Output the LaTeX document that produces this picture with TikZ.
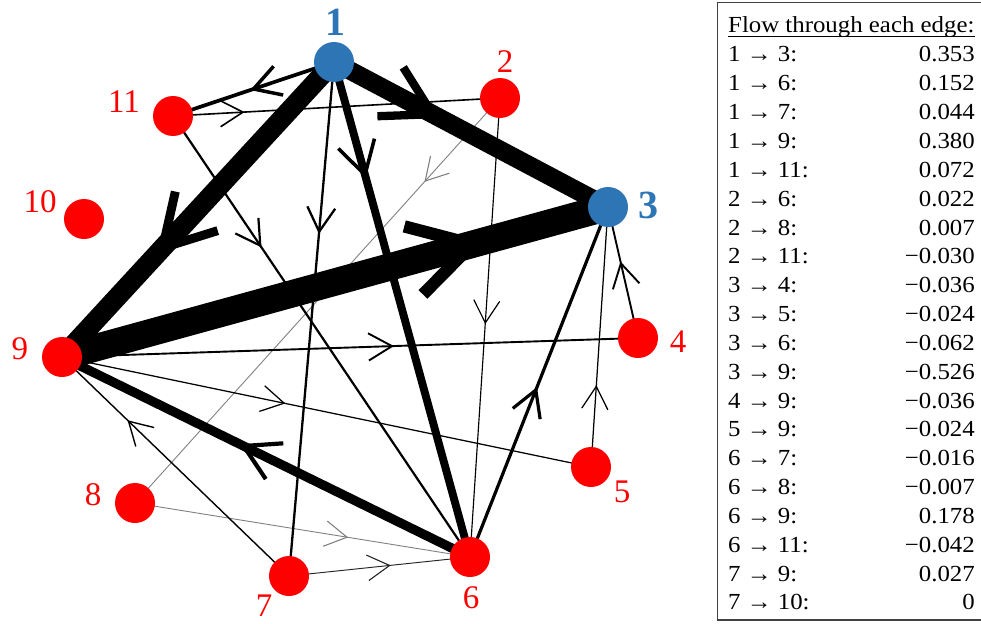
\documentclass[tikz,border=0pt]{standalone}
\usepackage{fontspec}
\setmainfont{Liberation Serif}
\newfontfamily\tablefont{Liberation Serif}[FakeStretch=1.08]
\usetikzlibrary{decorations.markings}
\definecolor{nodeblue}{HTML}{2E75B6}
\definecolor{nodered}{HTML}{FF0000}
\pgfdeclarelayer{background}
\pgfsetlayers{background,main}
\tikzset{
  vtx/.style={circle, fill=nodered, minimum size=40pt, inner sep=0pt},
  hub/.style={vtx, fill=nodeblue},
  lbl/.style={text=nodered, font=\fontsize{33}{33}\selectfont, inner sep=0pt},
  hublbl/.style={text=nodeblue, font=\fontsize{40}{40}\selectfont\bfseries, inner sep=0pt},
  rowtxt/.style={font=\tablefont\fontsize{23}{23}\selectfont, inner sep=0pt},
  tableframe/.style={line width=1.3pt, black!75},
}
\newcommand\flowedge[5][black]{%
  \pgfmathsetmacro\fbl{24+1.7*#4}%
  \pgfmathsetmacro\fbw{#4<3.5 ? max(#4,1.1) : max(3.5,0.45*#4)}%
  \draw[#1, line width=#4pt, postaction={decorate, decoration={markings,
      mark=at position #5 with {\draw[#1, line width=\fbw pt, line join=miter, line cap=butt]
        (150:\fbl pt) -- (0,0) -- (210:\fbl pt);}}}] (#2.center) -- (#3.center);
}
\begin{document}
\begin{tikzpicture}[x=1pt, y=-1pt]
\useasboundingbox (0,0) rectangle (981,623);
% nodes
\node[hub] (n1) at (334,62) {};
\node[vtx] (n2) at (500,98) {};
\node[hub] (n3) at (608,207) {};
\node[vtx] (n4) at (638,338) {};
\node[vtx] (n5) at (591,467) {};
\node[vtx] (n6) at (470,557) {};
\node[vtx] (n7) at (289,576) {};
\node[vtx] (n8) at (135,503) {};
\node[vtx] (n9) at (62,357) {};
\node[vtx] (n10) at (84,219) {};
\node[vtx] (n11) at (173,116) {};
% labels
\node[hublbl] (l1) at (335,22) {1};
\node[lbl] (l2) at (505,62) {2};
\node[hublbl] (l3) at (648,205) {3};
\node[lbl] (l4) at (678,342) {4};
\node[lbl] (l5) at (622,492) {5};
\node[lbl] (l6) at (471,598) {6};
\node[lbl] (l7) at (264,606) {7};
\node[lbl] (l8) at (93,495) {8};
\node[lbl] (l9) at (20,349) {9};
\node[lbl] (l10) at (40,202) {10};
\node[lbl] (l11) at (124,102) {11};
% edges
\begin{pgfonlayer}{background}
\flowedge[black!50]{n2}{n8}{0.9}{0.205}
\flowedge[black!50]{n8}{n6}{0.9}{0.633}
\flowedge[black!85]{n7}{n6}{0.95}{0.556}
\flowedge{n2}{n6}{1.15}{0.49}
\flowedge{n9}{n5}{1.25}{0.42}
\flowedge{n5}{n3}{1.25}{0.31}
\flowedge{n7}{n9}{1.4}{0.707}
\flowedge{n11}{n2}{1.6}{0.214}
\flowedge{n9}{n4}{1.9}{0.573}
\flowedge{n4}{n3}{1.9}{0.57}
\flowedge{n11}{n6}{2.2}{0.294}
\flowedge{n1}{n7}{2.3}{0.33}
\flowedge{n6}{n3}{3.2}{0.477}
\flowedge{n1}{n11}{3.7}{0.50}
\flowedge{n1}{n6}{7.9}{0.228}
\flowedge{n6}{n9}{9.3}{0.555}
\flowedge{n1}{n3}{18.4}{0.36}
\flowedge{n1}{n9}{19.8}{0.63}
\flowedge{n9}{n3}{27.4}{0.752}
\end{pgfonlayer}
% table
\coordinate (tr) at (990,2.5);
\coordinate (tl) at (717.5,2.5);
\coordinate (bl) at (717.5,620);
\coordinate (br) at (990,620);
\draw[tableframe] (tr) -- (tl) -- (bl) -- (br);
\node[rowtxt, anchor=base west] (title) at (728,33) {Flow through each edge:};
\draw[line width=1pt] ([yshift=-3.5pt]title.base west) -- ([yshift=-3.5pt]title.base east);
\foreach \fa/\fb/\fv [count=\i] in {1/3/0.353, 1/6/0.152, 1/7/0.044, 1/9/0.380, 1/11/0.072,
  2/6/0.022, 2/8/0.007, 2/11/−0.030, 3/4/−0.036, 3/5/−0.024, 3/6/−0.062, 3/9/−0.526,
  4/9/−0.036, 5/9/−0.024, 6/7/−0.016, 6/8/−0.007, 6/9/0.178, 6/11/−0.042, 7/9/0.027, 7/10/0} {
  \pgfmathsetmacro\yy{62+28.84*(\i-1)}
  \node[rowtxt, anchor=base west] (rl\i) at (728,\yy) {\fa{} → \fb:};
  \node[rowtxt, anchor=base east] (rv\i) at (975,\yy) {\fv};
}
\end{tikzpicture}
\end{document}
